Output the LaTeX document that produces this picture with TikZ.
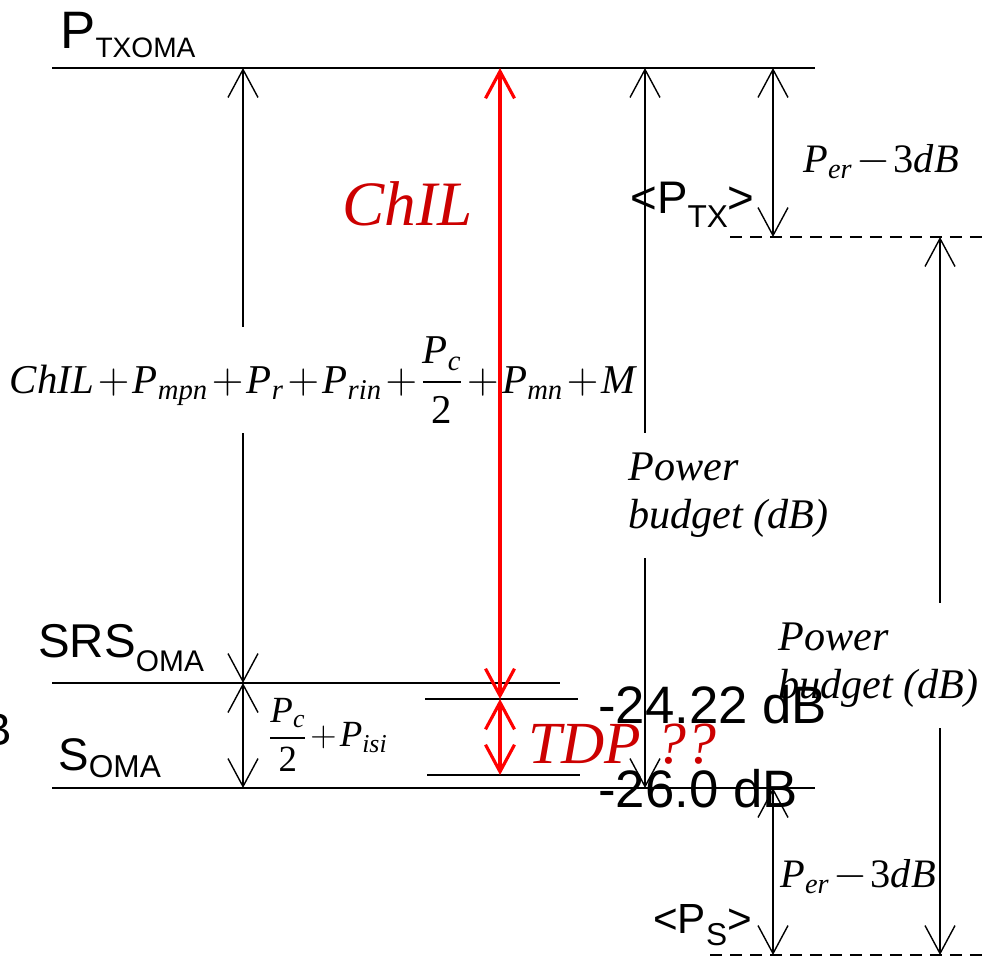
\documentclass[tikz,border=0pt]{standalone}
\usepackage{amsmath}
\usepackage{fontspec}
\setmainfont{Liberation Serif}
\newfontfamily\arialf{Liberation Sans}
\usetikzlibrary{arrows.meta,positioning,calc}
\definecolor{chilred}{RGB}{204,0,0}
\newcommand{\lowsub}[3]{\raisebox{-#2}{\fontsize{#1}{#1}\selectfont #3}}
\newcommand{\fs}[1]{\fontsize{#1}{#1}\selectfont}
\medmuskip=1.5mu

\begin{document}
\begin{tikzpicture}[x=0.02cm, y=-0.02cm,
  lvlline/.style={line width=1.2pt},
  dashlvl/.style={line width=1.2pt, dash pattern=on 0.24cm off 0.16cm},
  dimarrow/.style={line width=0.8pt,
    {Straight Barb[length=5.6mm,width=6mm]}-{Straight Barb[length=5.6mm,width=6mm]}},
  redarrow/.style={red, line width=1.8pt,
    {Straight Barb[length=5.4mm,width=5.8mm]}-{Straight Barb[length=5.4mm,width=5.8mm]}},
  sflabel/.style={font=\arialf, inner sep=0pt},
  mathlabel/.style={inner sep=0pt},
  budget/.style={font=\itshape\fontsize{24}{27.3}\selectfont, align=left, fill=white,
    inner xsep=0.1cm, inner ysep=0.4cm, anchor=north west}]
  \useasboundingbox (0,0) rectangle (982,958);
  % Levels
  \coordinate (topL) at (52,68);    \coordinate (topR) at (815,68);
  \coordinate (srsL) at (52,683);   \coordinate (srsR) at (560,683);
  \coordinate (hiL) at (425,699);   \coordinate (hiR) at (578,699);
  \coordinate (loL) at (427,775);   \coordinate (loR) at (580,775);
  \coordinate (soL) at (52,788);    \coordinate (soR) at (815,788);
  \coordinate (ptxL) at (730,237);  \coordinate (ptxR) at (982,237);
  \coordinate (psL) at (710,955);   \coordinate (psR) at (982,955);
  \draw[lvlline] (topL) -- (topR);
  \draw[lvlline] (srsL) -- (srsR);
  \draw[lvlline] (hiL) -- (hiR);
  \draw[lvlline] (loL) -- (loR);
  \draw[lvlline] (soL) -- (soR);
  \draw[dashlvl] (ptxL) -- (ptxR);
  \draw[dashlvl] (psL) -- (psR);
  % Arrow ends
  \coordinate (sumT) at (243,68);   \coordinate (sumB) at (243,683);
  \coordinate (isiB) at (243,788);
  \coordinate (chilT) at (500,68);  \coordinate (chilB) at (500,699);
  \coordinate (tdpB) at (500,775);
  \coordinate (pbT) at (645,68);    \coordinate (pbB) at (645,788);
  \coordinate (erT) at (773,68);    \coordinate (erB) at (773,237);
  \coordinate (pbsT) at (940,237);  \coordinate (pbsB) at (940,955);
  \coordinate (ersT) at (773,788);  \coordinate (ersB) at (773,955);
  \draw[dimarrow] (sumT) -- (sumB);
  \draw[dimarrow] (sumB) -- (isiB);
  \draw[dimarrow] (pbT) -- (pbB);
  \draw[dimarrow] (erT) -- (erB);
  \draw[dimarrow] (pbsT) -- (pbsB);
  \draw[dimarrow] (ersT) -- (ersB);
  % Labels that cut the lines
  \node[fill=white, inner xsep=0.05cm, inner ysep=0.2cm, font=\fs{23.3}] (sum) at (323,380)
    {$\textit{ChIL}+\textit{P}_{\textit{mpn}}+\textit{P}_{\textit{r}}+\textit{P}_{\textit{rin}}
      +\dfrac{\textit{P}_{\textit{c}}}{\textup{2}}+\textit{P}_{\textit{mn}}+\textit{M}$};
  \node[budget] (pb) at (623,433) {Power\\budget (dB)};
  \node[budget] (pbs) at (773,603) {Power\\budget (dB)};
  % Red: ChIL and TDP
  \draw[redarrow] (chilT) -- (chilB);
  \draw[redarrow] (chilB) -- (tdpB);
  \node[inner sep=0pt, anchor=base west, text=chilred, font=\itshape\fs{36}] (chil) at (342,225) {ChIL};
  \node[inner sep=0pt, anchor=base west, text=chilred, font=\itshape\fs{34}] (tdp) at (528,763) {TDP ??};
  % Level names
  \node[sflabel, anchor=base west, font=\arialf\fs{30}] (ptxoma) at (60,48) {P\lowsub{16}{5.5pt}{TXOMA}};
  \node[sflabel, anchor=base west, font=\arialf\fs{27}] (srsoma) at (38,657) {SRS\lowsub{17}{8pt}{OMA}};
  \node[sflabel, anchor=base west, font=\arialf\fs{26}] (soma) at (58,770) {S\lowsub{18}{4pt}{OMA}};
  \node[sflabel, anchor=base west, font=\arialf\fs{26}] (ptx) at (630,213) {<P\lowsub{18}{8pt}{TX}>};
  \node[sflabel, anchor=base west, font=\arialf\fs{24}] (ps) at (653,933) {<P\lowsub{18}{7pt}{S}>};
  % Other terms
  \node[mathlabel, anchor=west, font=\fs{21}] (isi) at (268,735)
    {$\dfrac{\textit{P}_{\textit{c}}}{\textup{2}}+\textit{P}_{\textit{isi}}$};
  \node[mathlabel, anchor=base west, font=\fs{23}] (er) at (803,172)
    {$\textit{P}_{\textit{er}}-\textup{3}\textit{dB}$};
  \node[mathlabel, anchor=base west, font=\fs{23}] (ers) at (780,887)
    {$\textit{P}_{\textit{er}}-\textup{3}\textit{dB}$};
  % Values
  \node[sflabel, anchor=base west, font=\arialf\fs{30}] (hi) at (598,723) {-24.22 dB};
  \node[sflabel, anchor=base west, font=\arialf\fs{30}] (lo) at (598,807) {-26.0 dB};
  \node[sflabel, anchor=base east, font=\arialf\fs{26}] (cut) at (12,745) {dB};
\end{tikzpicture}
\end{document}
